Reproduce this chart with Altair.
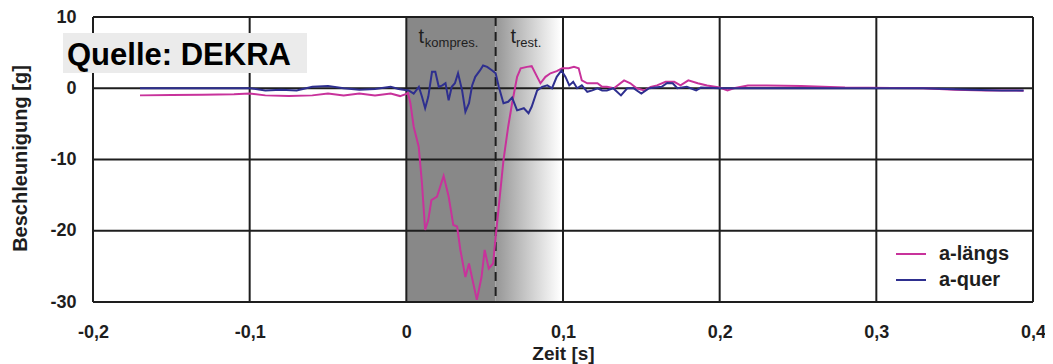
import altair as alt
import pandas as pd

# ---- data ----
laengs_t = [-0.17, -0.15, -0.13, -0.11, -0.10, -0.09, -0.075, -0.06, -0.05, -0.04, -0.03, -0.02, -0.01,
            -0.004, 0.0, 0.001, 0.0026, 0.0047, 0.0079, 0.010, 0.012, 0.014, 0.016, 0.0196, 0.0238, 0.027,
            0.030, 0.0324, 0.0345, 0.0377, 0.040, 0.045, 0.048, 0.050, 0.0526, 0.0554, 0.057, 0.059, 0.062,
            0.065, 0.0675, 0.0707, 0.073, 0.077, 0.080, 0.0835, 0.0856, 0.0888, 0.092, 0.096, 0.0995, 0.1037,
            0.107, 0.110, 0.112, 0.1155, 0.1187, 0.122, 0.125, 0.128, 0.1325, 0.139, 0.143, 0.147, 0.152,
            0.156, 0.160, 0.1655, 0.171, 0.175, 0.180, 0.186, 0.192, 0.200, 0.205, 0.209, 0.218, 0.230, 0.252,
            0.28, 0.31, 0.33, 0.35, 0.37, 0.385, 0.394]
laengs_v = [-1.0, -0.95, -0.9, -0.85, -0.75, -1.0, -1.1, -1.0, -0.75, -1.0, -0.75, -1.0, -0.75,
            -1.1, -0.8, -0.65, -2.1, -5.4, -8.2, -13.4, -19.9, -18.5, -15.7, -15.2, -12.3, -15.2,
            -19.2, -19.4, -22.7, -26.5, -24.6, -29.7, -26.5, -22.7, -25.3, -24.6, -20.9, -16.6, -10.1,
            -5.4, -2.1, 1.6, 2.8, 3.0, 3.1, 1.6, 0.7, 1.6, 2.1, 2.4, 2.8, 2.8,
            3.0, 2.8, 1.1, 0.7, 0.7, 0.7, 0.2, 0.2, 0.0, 1.1, 0.7, 0.0, -0.3,
            0.2, 0.4, 0.9, 0.9, 0.4, 1.1, 0.7, 0.4, 0.1, -0.3, 0.0, 0.4, 0.4, 0.3,
            0.1, 0.05, 0.0, -0.2, -0.3, -0.3, -0.35]

quer_t = [-0.17, -0.12, -0.10, -0.09, -0.08, -0.07, -0.06, -0.05, -0.04, -0.03, -0.02, -0.01, -0.005,
          0.0015, 0.0047, 0.008, 0.010, 0.012, 0.014, 0.0164, 0.0185, 0.0207, 0.023, 0.025, 0.027, 0.029,
          0.031, 0.033, 0.0356, 0.0377, 0.040, 0.042, 0.044, 0.047, 0.049, 0.0516, 0.0548, 0.057, 0.059,
          0.062, 0.065, 0.0675, 0.0707, 0.075, 0.078, 0.080, 0.0835, 0.0867, 0.090, 0.093, 0.096, 0.099,
          0.1016, 0.104, 0.1065, 0.109, 0.112, 0.1155, 0.1187, 0.122, 0.125, 0.128, 0.132, 0.137, 0.141,
          0.145, 0.150, 0.155, 0.163, 0.1665, 0.170, 0.173, 0.179, 0.185, 0.188, 0.200, 0.25, 0.30, 0.33,
          0.36, 0.38, 0.394]
quer_v = [0.0, 0.0, 0.0, -0.3, -0.2, -0.3, 0.2, 0.3, 0.0, -0.2, -0.1, 0.2, -0.1,
          -0.3, -0.75, 0.2, -1.2, -2.8, -1.2, 2.3, 2.3, 0.2, 0.4, 0.7, -1.7, 0.2,
          0.7, 2.1, -0.3, -3.3, -2.1, 0.4, 1.6, 2.5, 3.2, 3.0, 2.5, 2.1, 0.2,
          -2.1, -1.9, -1.3, -3.1, -2.8, -3.5, -2.6, -0.3, 0.2, 0.4, 0.0, 1.6, 2.5,
          1.6, 0.4, 0.9, 0.0, 0.4, -0.5, -0.3, 0.0, -0.3, -0.3, 0.0, -1.0, 0.0,
          0.0, -0.75, 0.0, 0.2, 0.75, 0.7, 0.0, 0.2, -0.3, 0.1, 0.0, 0.0, 0.0, 0.0,
          -0.2, -0.3, -0.3]

series_names = ["a-längs", "a-quer"]
series_colors = ["#c8329b", "#2e2f8f"]

x_ticks = [-0.2, -0.1, 0.0, 0.1, 0.2, 0.3, 0.4]
y_ticks = [-30, -20, -10, 0, 10]

phase_start = [0.0]
phase_split = [0.057]
phase_end = [0.1]

label_main = ["t", "t"]
label_sub = ["kompres.", "rest."]
label_main_x = [0.0077, 0.0665]
label_sub_x = [0.0118, 0.0700]
label_main_y = [6.3, 6.3]
label_sub_y = [5.75, 5.75]

source_text = "Quelle: DEKRA"

# ---- tables ----
rows = []
for i, (t, v) in enumerate(zip(laengs_t, laengs_v)):
    rows.append({"t": t, "a": v, "serie": series_names[0], "idx": i})
for i, (t, v) in enumerate(zip(quer_t, quer_v)):
    rows.append({"t": t, "a": v, "serie": series_names[1], "idx": i})
lines_df = pd.DataFrame(rows)

FONT = "Liberation Sans"
INK = "#1e1e1e"

xscale = alt.Scale(domain=[-0.2, 0.4], nice=False, zero=False)
yscale = alt.Scale(domain=[-30, 10], nice=False, zero=False)

x_label_expr = ("datum.value == 0 ? '0' : "
                "replace(replace(format(datum.value, '.1f'), '.', ','), '\u2212', '-')")
y_label_expr = "replace(format(datum.value, 'd'), '\u2212', '-')"

x_axis = alt.Axis(values=x_ticks, labelExpr=x_label_expr, grid=False, ticks=False, tickSize=0,
                  domain=False, labelFont=FONT, labelFontSize=18, labelFontWeight="bold",
                  labelColor=INK, labelPadding=21, labelFlush=False, labelBound=False,
                  labelOverlap=False, title="Zeit [s]", titleFont=FONT, titleFontSize=19,
                  titleFontWeight="bold", titleColor=INK, titlePadding=3)
y_axis = alt.Axis(values=y_ticks, labelExpr=y_label_expr, grid=False, ticks=False, tickSize=0,
                  domain=False, labelFont=FONT, labelFontSize=18, labelFontWeight="bold",
                  labelColor=INK, labelPadding=17, labelFlush=False, labelOverlap=False,
                  title="Beschleunigung [g]", titleFont=FONT, titleFontSize=20,
                  titleFontWeight="bold", titleColor=INK, titleX=-73, titleY=141,
                  titleBaseline="middle", titleAlign="center", titleAngle=270)

# shaded phases
shade_dark = alt.Chart(pd.DataFrame({"x0": phase_start, "x1": phase_split})).mark_rect(
    color="#888888").encode(
    x=alt.X("x0:Q", scale=xscale, axis=x_axis), x2="x1:Q",
    y=alt.datum(10, scale=yscale, axis=y_axis), y2=alt.datum(-30))

grad = alt.LinearGradient(gradient="linear",
                          stops=[alt.GradientStop(color="#969696", offset=0),
                                 alt.GradientStop(color="#ffffff", offset=0.97)],
                          x1=0, x2=1, y1=0, y2=0)
shade_grad = alt.Chart(pd.DataFrame({"x0": phase_split, "x1": phase_end})).mark_rect(
    color=grad).encode(x="x0:Q", x2="x1:Q", y=alt.datum(10), y2=alt.datum(-30))

vgrid = alt.Chart(pd.DataFrame({"t": x_ticks})).mark_rule(color=INK, strokeWidth=2).encode(x="t:Q")
hgrid = alt.Chart(pd.DataFrame({"a": y_ticks})).mark_rule(color=INK, strokeWidth=2).encode(y="a:Q")

dashed = alt.Chart(pd.DataFrame({"t": phase_split})).mark_rule(
    color=INK, strokeWidth=2, strokeDash=[9, 6]).encode(x="t:Q")

lines = alt.Chart(lines_df).mark_line(strokeWidth=2).encode(
    x="t:Q", y="a:Q",
    color=alt.Color("serie:N", scale=alt.Scale(domain=series_names, range=series_colors),
                    legend=alt.Legend(title=None, orient="none", legendX=802, legendY=221,
                                      symbolType="stroke", symbolSize=900, symbolStrokeWidth=2,
                                      labelFont=FONT, labelFontSize=20, labelFontWeight="bold",
                                      labelColor=INK, labelOffset=12, rowPadding=-1, padding=0)),
    order="idx:Q")

ann_main = alt.Chart(pd.DataFrame({"x": label_main_x, "y": label_main_y, "s": label_main})).mark_text(
    font=FONT, fontSize=20, color=INK, align="left", baseline="alphabetic").encode(
    x="x:Q", y="y:Q", text="s:N")
ann_sub = alt.Chart(pd.DataFrame({"x": label_sub_x, "y": label_sub_y, "s": label_sub})).mark_text(
    font=FONT, fontSize=13, color=INK, align="left", baseline="alphabetic").encode(
    x="x:Q", y="y:Q", text="s:N")

src_box = alt.Chart(pd.DataFrame({"k": [0]})).mark_rect(color="#ebebeb").encode(
    x=alt.value(-30), x2=alt.value(214), y=alt.value(16), y2=alt.value(56))
src_text = alt.Chart(pd.DataFrame({"k": [0]})).mark_text(
    font=FONT, fontSize=31, fontWeight="bold", color="#000000", align="left",
    baseline="alphabetic").encode(x=alt.value(-26), y=alt.value(48), text=alt.value(source_text))

chart = alt.layer(shade_dark, shade_grad, vgrid, hgrid, dashed, lines, ann_main, ann_sub,
                  src_box, src_text).properties(
    width=940, height=285,
    autosize=alt.AutoSizeParams(type="none"),
    padding={"left": 85, "top": 9, "right": 12, "bottom": 62},
    background="white",
).configure_view(stroke="transparent")

chart.save("out.html", embed_options={"renderer": "svg", "actions": False})
